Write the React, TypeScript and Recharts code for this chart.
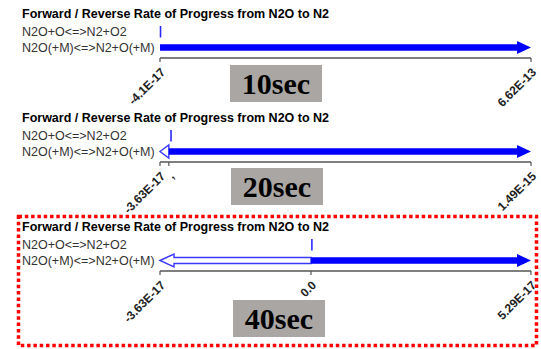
import React from "react";
import { BarChart, Bar, XAxis, YAxis } from "recharts";

const reactions = ["N2O+O<=>N2+O2", "N2O(+M)<=>N2+O(+M)"];
const title = "Forward / Reverse Rate of Progress from N2O to N2";

const forward10 = [1e-17, 6.62e-13];
const reverse10 = [-1e-17, -4.1e-17];
const ticks10 = [-4.1e-17, 6.62e-13];
const tickLabels10 = ["-4.1E-17", "6.62E-13"];

const forward20 = [7e-18, 1.49e-15];
const reverse20 = [-1e-18, -3.63e-17];
const ticks20 = [-3.63e-17, 0, 1.49e-15];
const tickLabels20 = ["-3.63E-17", ",", "1.49E-15"];

const forward40 = [1e-19, 5.29e-17];
const reverse40 = [-1e-19, -3.63e-17];
const ticks40 = [-3.63e-17, 0, 5.29e-17];
const tickLabels40 = ["-3.63E-17", "0.0", "5.29E-17"];

const timeLabels = ["10sec", "20sec", "40sec"];

const SANS = '"Liberation Sans", Arial, sans-serif';
const SERIF = '"Liberation Serif", "Times New Roman", serif';
const BLUE = "#0000ff";

const ForwardShape = (props: any) => {
  const { x, y, width, height } = props;
  const left = Math.min(x, x + width);
  const right = Math.max(x, x + width);
  const cy = y + height / 2;
  const len = right - left;
  if (len < 3) {
    return (
      <line x1={right + 0.5} x2={right + 0.5} y1={cy - 6} y2={cy + 5.5} stroke="#2a2aff" strokeWidth={1.6} />
    );
  }
  const hl = Math.min(14, len);
  const hh = 6.5;
  const bh = 3.2;
  const d = `M${left},${cy - bh} L${right - hl},${cy - bh} L${right - hl},${cy - hh} L${right},${cy} L${right - hl},${cy + hh} L${right - hl},${cy + bh} L${left},${cy + bh} Z`;
  return <path d={d} fill={BLUE} stroke="none" />;
};

const ReverseShape = (props: any) => {
  const { x, y, width, height } = props;
  const left = Math.min(x, x + width);
  const right = Math.max(x, x + width);
  const cy = y + height / 2;
  const len = right - left;
  if (len < 3) return <g />;
  const hl = Math.min(14, len);
  const hh = 6.5;
  const bh = 3;
  const d = `M${left},${cy} L${left + hl},${cy - hh} L${left + hl},${cy - bh} L${right},${cy - bh} L${right},${cy + bh} L${left + hl},${cy + bh} L${left + hl},${cy + hh} Z`;
  return <path d={d} fill="#ffffff" stroke="#3a3aff" strokeWidth={1.4} />;
};

const RowTick = (props: any) => {
  const { y, payload } = props;
  return (
    <text x={22} y={y} dy="0.35em" fontSize={12.5} fill="#333" fontFamily={SANS}>
      {payload.value}
    </text>
  );
};

const makeAngledTick = (ticks: number[], labels: string[]) => (props: any) => {
  const { x, y, payload } = props;
  const idx = ticks.indexOf(payload.value);
  const label = idx >= 0 ? labels[idx] : "";
  return (
    <g transform={`translate(${x + 3},${y + 6})`}>
      <text
        x={0}
        y={0}
        dy="0.35em"
        textAnchor="end"
        transform="rotate(-45)"
        fontSize={12}
        fontWeight="bold"
        fill="#222"
        fontFamily={SANS}
      >
        {label}
      </text>
    </g>
  );
};

type PanelProps = {
  top: number;
  forward: number[];
  reverse: number[];
  ticks: number[];
  tickLabels: string[];
  time: string;
  boxLeft: number;
  boxTop: number;
};

const Panel = ({ top, forward, reverse, ticks, tickLabels, time, boxLeft, boxTop }: PanelProps) => {
  const data = reactions.map((name, i) => ({ name, forward: forward[i], reverse: reverse[i] }));
  const dmin = Math.min(...reverse);
  const dmax = Math.max(...forward);
  const Tick = makeAngledTick(ticks, tickLabels);
  return (
    <div style={{ position: "absolute", left: 0, top, width: 541, height: 120 }}>
      <div
        style={{
          position: "absolute",
          left: 22,
          top: 7,
          fontFamily: SANS,
          fontSize: 12.5,
          fontWeight: "bold",
          lineHeight: "15px",
          color: "#000",
          whiteSpace: "nowrap",
        }}
      >
        {title}
      </div>
      <BarChart
        width={541}
        height={120}
        data={data}
        layout="vertical"
        stackOffset="sign"
        margin={{ top: 24, right: 10, left: 0, bottom: 17 }}
        barSize={6}
      >
        <XAxis
          type="number"
          domain={[dmin, dmax]}
          ticks={ticks}
          interval={0}
          height={45}
          axisLine={{ stroke: "#555", strokeWidth: 1.5 }}
          tickLine={{ stroke: "#555", strokeWidth: 1.2 }}
          tickSize={4}
          tick={<Tick />}
        />
        <YAxis
          type="category"
          dataKey="name"
          width={160}
          interval={0}
          axisLine={false}
          tickLine={false}
          padding={{ top: 0, bottom: 3 }}
          tick={<RowTick />}
        />
        <Bar dataKey="reverse" stackId="a" isAnimationActive={false} shape={<ReverseShape />} />
        <Bar dataKey="forward" stackId="a" isAnimationActive={false} shape={<ForwardShape />} />
      </BarChart>
      <div
        style={{
          position: "absolute",
          left: boxLeft,
          top: boxTop,
          width: 92,
          height: 37,
          background: "#aaa6a4",
          display: "flex",
          alignItems: "center",
          justifyContent: "center",
          fontFamily: SERIF,
          fontWeight: "bold",
          fontSize: 30,
          color: "#000",
        }}
      >
        {time}
      </div>
    </div>
  );
};

export default function App() {
  return (
    <div style={{ position: "absolute", left: 0, top: 0, width: 541, height: 349, background: "#fff", overflow: "hidden" }}>
      <Panel top={0} forward={forward10} reverse={reverse10} ticks={ticks10} tickLabels={tickLabels10} time={timeLabels[0]} boxLeft={230} boxTop={65} />
      <Panel top={104} forward={forward20} reverse={reverse20} ticks={ticks20} tickLabels={tickLabels20} time={timeLabels[1]} boxLeft={231} boxTop={64} />
      <Panel top={213} forward={forward40} reverse={reverse40} ticks={ticks40} tickLabels={tickLabels40} time={timeLabels[2]} boxLeft={233} boxTop={87} />
      <svg width={541} height={349} style={{ position: "absolute", left: 0, top: 0, pointerEvents: "none" }}>
        <rect x={18.5} y={216.5} width={518} height={129} fill="none" stroke="#ff0000" strokeWidth={3.5} strokeDasharray="3.5 2.8" />
      </svg>
    </div>
  );
}
